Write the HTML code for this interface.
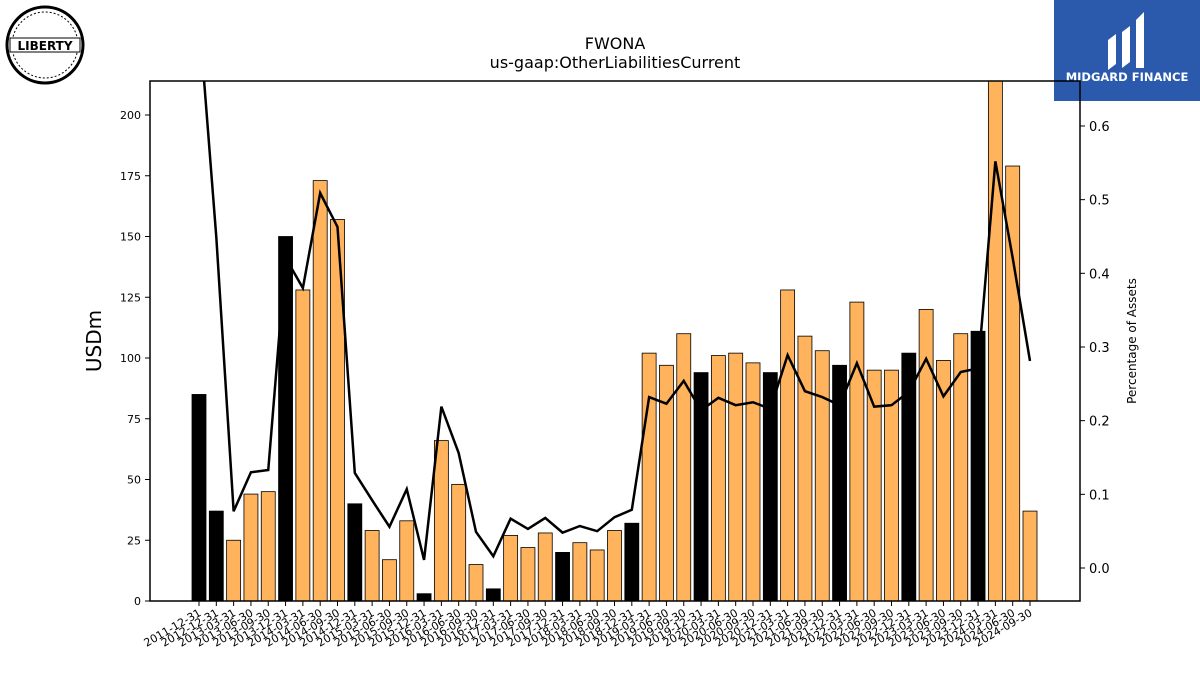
<!DOCTYPE html>
<html><head><meta charset="utf-8"><style>
body{margin:0;background:#fff;font-family:"Liberation Sans","DejaVu Sans",sans-serif}
svg text{font-family:"DejaVu Sans","Liberation Sans",sans-serif}
</style></head><body>
<svg id="c" width="1200" height="675" xmlns="http://www.w3.org/2000/svg">
<g>
<circle cx="45" cy="45" r="38" fill="#fff" stroke="#000" stroke-width="3"/>
<circle cx="45" cy="45" r="33" fill="none" stroke="#000" stroke-width="1" stroke-dasharray="2 2"/>
<rect x="10" y="38" width="70" height="14" fill="#fff" stroke="#000"/>
<text x="45" y="50" font-size="12" font-weight="bold" text-anchor="middle" font-family="Liberation Serif,serif">LIBERTY</text>
</g>
<g>
<rect x="1054" y="0" width="146" height="101" fill="#2b5aad"/>
<path d="M1108 40 l8 -6 v30 l-8 6z M1122 32 l8 -6 v36 l-8 6z M1136 20 l8 -8 v56 l-8 0z" fill="#fff"/>
<text x="1127" y="81" font-size="11.5" font-weight="bold" fill="#fff" text-anchor="middle">MIDGARD FINANCE</text>
</g>
<text x="615" y="49" font-size="16" text-anchor="middle">FWONA</text>
<text x="615" y="68" font-size="16" text-anchor="middle">us-gaap:OtherLiabilitiesCurrent</text>
<g id="plot"></g>
</svg>
<script>
const categories=["2011-12-31","2012-12-31","2013-03-31","2013-06-30","2013-09-30","2013-12-31","2014-03-31","2014-06-30","2014-09-30","2014-12-31","2015-03-31","2015-06-30","2015-09-30","2015-12-31","2016-03-31","2016-06-30","2016-09-30","2016-12-31","2017-03-31","2017-06-30","2017-09-30","2017-12-31","2018-03-31","2018-06-30","2018-09-30","2018-12-31","2019-03-31","2019-06-30","2019-09-30","2019-12-31","2020-03-31","2020-06-30","2020-09-30","2020-12-31","2021-03-31","2021-06-30","2021-09-30","2021-12-31","2022-03-31","2022-06-30","2022-09-30","2022-12-31","2023-03-31","2023-06-30","2023-09-30","2023-12-31","2024-03-31","2024-06-30","2024-09-30"];
const liabilities=[85,37,25,44,45,150,128,173,157,40,29,17,33,3,66,48,15,5,27,22,28,20,24,21,29,32,102,97,110,94,101,102,98,94,128,109,103,97,123,95,95,102,120,99,110,111,230,179,37];
const pctAssets=[0.75,0.449,0.077,0.130,0.133,0.421,0.380,0.509,0.463,0.129,0.092,0.056,0.107,0.011,0.219,0.156,0.049,0.016,0.067,0.053,0.068,0.048,0.057,0.050,0.069,0.079,0.232,0.223,0.254,0.214,0.231,0.221,0.225,0.216,0.289,0.240,0.232,0.221,0.278,0.219,0.221,0.239,0.284,0.233,0.266,0.271,0.552,0.421,0.281];
const leftTicks=[0,25,50,75,100,125,150,175,200];
const rightTicks=[0.0,0.1,0.2,0.3,0.4,0.5,0.6];
const NS="http://www.w3.org/2000/svg";
const L=150,R=1080,T=81,B=601;
const x=i=>199+i*(1030-199)/(categories.length-1);
const yL=v=>601-v*2.43;
const yR=v=>568-v*736.7;
const g=document.getElementById('plot');
function mk(t,a,p){const e=document.createElementNS(NS,t);for(const k in a)e.setAttribute(k,a[k]);(p||g).appendChild(e);return e;}
const defs=mk('defs',{});const cp=mk('clipPath',{id:'cp'},defs);mk('rect',{x:L,y:T,width:R-L,height:B-T},cp);
const bars=mk('g',{'clip-path':'url(#cp)'});

const bw=14;
liabilities.forEach((v,i)=>{const q4=categories[i].endsWith('12-31');
const r=mk('rect',{x:x(i)-bw/2,y:yL(v),width:bw,height:B-yL(v),fill:q4?'#000':'#ffb35c',stroke:'#000','stroke-width':0.8},bars);
});
const ln=mk('polyline',{points:pctAssets.map((v,i)=>x(i)+','+yR(v)).join(' '),fill:'none',stroke:'#000','stroke-width':2.5,'clip-path':'url(#cp)'});

const fr=mk('rect',{x:L,y:T,width:R-L,height:B-T,fill:'none',stroke:'#000','stroke-width':1.5});

leftTicks.forEach(t=>{mk('line',{x1:L-5,x2:L,y1:yL(t),y2:yL(t),stroke:'#000'});
const e=mk('text',{x:L-9,y:yL(t)+4,'font-size':11,'text-anchor':'end'});e.textContent=t;
});
rightTicks.forEach(t=>{mk('line',{x1:R,x2:R+5,y1:yR(t),y2:yR(t),stroke:'#000'});
const e=mk('text',{x:R+9,y:yR(t)+5,'font-size':13});e.textContent=t.toFixed(1);
});
categories.forEach((c,i)=>{mk('line',{x1:x(i),x2:x(i),y1:B,y2:B+5,stroke:'#000'});
const e=mk('text',{x:x(i)+3,y:B+14,'font-size':11,'text-anchor':'end',transform:`rotate(-30 ${x(i)+3} ${B+14})`});e.textContent=c;
});
let e=mk('text',{x:101,y:341,'font-size':20,'text-anchor':'middle',transform:'rotate(-90 101 341)'});e.textContent='USDm';

e=mk('text',{x:1136,y:341,'font-size':12,'text-anchor':'middle',transform:'rotate(-90 1136 341)'});e.textContent='Percentage of Assets';

</script>
</body></html>
